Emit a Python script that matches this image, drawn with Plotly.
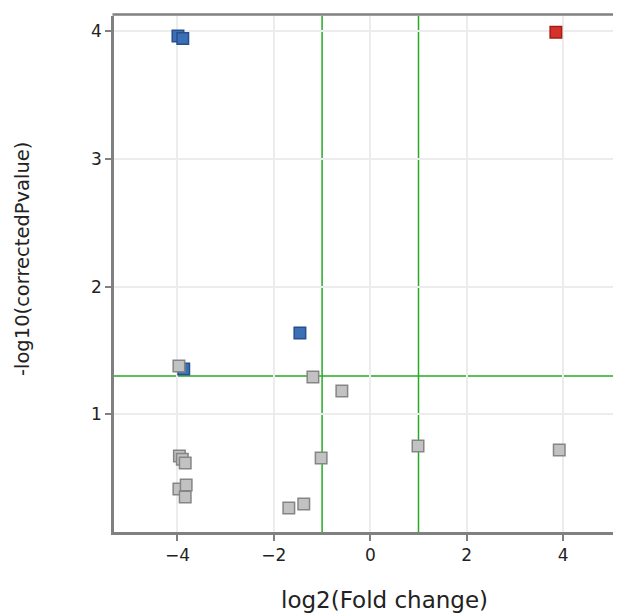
import plotly.graph_objects as go

# Data
down_x = [-3.99, -3.89, -1.46, -3.87]
down_y = [3.96, 3.94, 1.637, 1.355]

up_x = [3.85]
up_y = [3.99]

ns_x = [-3.97, -1.19, -0.59, -1.02, 0.99, 3.92, -1.69, -1.38,
        -3.96, -3.90, -3.84, -3.97, -3.82, -3.84]
ns_y = [1.379, 1.293, 1.183, 0.659, 0.753, 0.721, 0.268, 0.299,
        0.674, 0.65, 0.62, 0.416, 0.447, 0.354]

fc_cut = [-1, 1]
p_cut = 1.301

x_ticks = [-4, -2, 0, 2, 4]
y_ticks = [1, 2, 3, 4]

x_title = "log2(Fold change)"
y_title = "-log10(correctedPvalue)"

fig = go.Figure()

def add(xs, ys, fill, edge):
    fig.add_trace(go.Scatter(
        x=xs, y=ys, mode="markers",
        marker=dict(symbol="square", size=11.5, color=fill,
                    line=dict(color=edge, width=1.5)),
        showlegend=False))

add(up_x, up_y, "#d6322a", "#a31d16")
add(down_x, down_y, "#3b6fb6", "#284f8c")
add(ns_x, ns_y, "#c2c2c2", "#858585")

line_color = "#24aa24"
for v in fc_cut:
    fig.add_shape(type="line", xref="x", yref="paper", x0=v, x1=v, y0=0, y1=1,
                  line=dict(color=line_color, width=1.5), layer="below")
fig.add_shape(type="line", xref="paper", yref="y", x0=0, x1=1, y0=p_cut, y1=p_cut,
              line=dict(color=line_color, width=1.5), layer="below")
# top frame line
fig.add_shape(type="line", xref="paper", yref="paper", x0=-0.003, x1=1, y0=1.003, y1=1.003,
              line=dict(color="#808080", width=2.5))

fig.add_annotation(text=x_title, xref="paper", yref="paper", x=0.5345, y=0,
                   xanchor="center", yanchor="middle", yshift=-68, showarrow=False,
                   font=dict(size=23, color="#222222"))
fig.add_annotation(text=y_title, xref="paper", yref="paper", x=0, y=0.529,
                   xanchor="center", yanchor="middle", xshift=-92, textangle=-90,
                   showarrow=False, font=dict(size=19.5, color="#222222"))

font_family = "DejaVu Sans, Verdana, sans-serif"
fig.update_layout(
    width=613, height=605,
    margin=dict(l=106, r=0, t=8, b=81, autoexpand=False),
    plot_bgcolor="white", paper_bgcolor="white",
    font=dict(family=font_family, color="#222222"),
    xaxis=dict(
        range=[-5.317, 5.201], tickvals=x_ticks, automargin=False,
        ticktext=["\u2212" + str(-t) if t < 0 else str(t) for t in x_ticks],
        showgrid=True, gridcolor="#ececec", gridwidth=1.5, zeroline=False,
        showline=True, linecolor="#808080", linewidth=2.5,
        ticks="outside", ticklen=6, tickwidth=2, tickcolor="#808080",
        tickfont=dict(size=17, color="#222222"),
    ),
    yaxis=dict(
        range=[0.080, 4.117], tickvals=y_ticks, automargin=False,
        showgrid=True, gridcolor="#ececec", gridwidth=1.5, zeroline=False,
        showline=True, linecolor="#808080", linewidth=2.5,
        ticks="outside", ticklen=6, tickwidth=2, tickcolor="#808080",
        tickfont=dict(size=17, color="#222222"),
    ),
)

fig.write_html("out.html")
